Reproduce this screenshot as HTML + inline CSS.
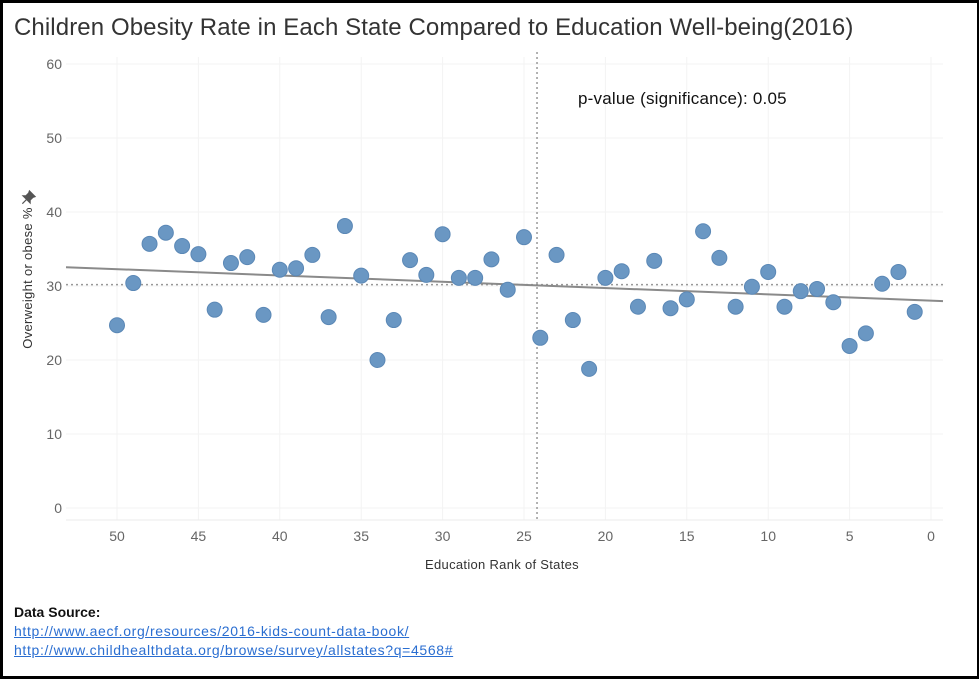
<!DOCTYPE html>
<html><head><meta charset="utf-8"><style>
body{margin:0;background:#fff;}
#wrap{position:relative;width:979px;height:679px;box-sizing:border-box;border:3px solid #000;border-right-width:2px;background:#fff;overflow:hidden;font-family:"Liberation Sans",sans-serif;}
#title{position:absolute;left:11px;top:11px;font-size:24px;letter-spacing:0.1px;color:#333;}
#src{position:absolute;left:11px;top:600px;font-size:14px;line-height:19px;letter-spacing:0.65px;}
#src b{color:#111;letter-spacing:0;}
#src span{color:#2a6ed1;text-decoration:underline;display:block;}
</style></head><body>
<div id="wrap">
<div id="title">Children Obesity Rate in Each State Compared to Education Well-being(2016)</div>
<svg id="chart" width="979" height="679" style="position:absolute;left:-3px;top:-3px"></svg>
<div id="src"><b>Data Source:</b>
<span>http://www.aecf.org/resources/2016-kids-count-data-book/</span>
<span>http://www.childhealthdata.org/browse/survey/allstates?q=4568#</span></div>
</div>
<script>
const ranks=[50,49,48,47,46,45,44,43,42,41,40,39,38,37,36,35,34,33,32,31,30,29,28,27,26,25,24,23,22,21,20,19,18,17,16,15,14,13,12,11,10,9,8,7,6,5,4,3,2,1];
const obesity=[24.7,30.4,35.7,37.2,35.4,34.3,26.8,33.1,33.9,26.1,32.2,32.4,34.2,25.8,38.1,31.4,20.0,25.4,33.5,31.5,37.0,31.1,31.1,33.6,29.5,36.6,23.0,34.2,25.4,18.8,31.1,32.0,27.2,33.4,27.0,28.2,37.4,33.8,27.2,29.9,31.9,27.2,29.3,29.6,27.8,21.9,23.6,30.3,31.9,26.5];
const xTicks=[50,45,40,35,30,25,20,15,10,5,0];
const yTicks=[0,10,20,30,40,50,60];
const refRank=24.2;
const svg=document.getElementById('chart');const NS='http://www.w3.org/2000/svg';
const X=v=>931-v*16.28, Y=v=>508-v*7.4;
const L=66,R=943,T=57,B=520;
function mk(t,a,p){const e=document.createElementNS(NS,t);for(const k in a)e.setAttribute(k,a[k]);(p||svg).appendChild(e);return e;}
yTicks.forEach(v=>{
const g=mk('line',{x1:L,x2:R,y1:Y(v),y2:Y(v),stroke:'#f3f3f3'});


const t=mk('text',{x:62,y:Y(v)+5,'text-anchor':'end','font-size':14,fill:'#666'});t.textContent=v;


});
xTicks.forEach(v=>{
const g=mk('line',{x1:X(v),x2:X(v),y1:T,y2:B,stroke:'#f3f3f3'});


const t=mk('text',{x:X(v),y:541,'text-anchor':'middle','font-size':14,fill:'#666'});t.textContent=v;


});
const ax=mk('line',{x1:L,x2:R,y1:B,y2:B,stroke:'#ebebeb'});


const xt=mk('text',{x:502,y:569,'text-anchor':'middle','font-size':13,fill:'#333','letter-spacing':0.3});xt.textContent='Education Rank of States';


const yt=mk('text',{x:0,y:0,'text-anchor':'middle','font-size':13,fill:'#333','letter-spacing':0.3,transform:'translate(32,278) rotate(-90)'});yt.textContent='Overweight or obese %';


const pin=mk('path',{d:'M-4,-6 L4,-6 L3,-4 L3,0 L5,2 L-5,2 L-3,0 L-3,-4 Z M0,2 L0,8',fill:'#555',stroke:'#555','stroke-width':1.2,transform:'translate(28,198) rotate(45)'});


const n=ranks.length;const mx=ranks.reduce((a,b)=>a+b)/n,my=obesity.reduce((a,b)=>a+b)/n;
let sxy=0,sxx=0;ranks.forEach((r,i)=>{sxy+=(r-mx)*(obesity[i]-my);sxx+=(r-mx)*(r-mx);});
const slope=sxy/sxx,ic=my-slope*mx;
const ml=mk('line',{x1:L,x2:R,y1:Y(my),y2:Y(my),stroke:'#999','stroke-dasharray':'2,3','stroke-width':1.5});


const vl=mk('line',{x1:X(refRank),x2:X(refRank),y1:T-5,y2:B,stroke:'#999','stroke-dasharray':'2,3','stroke-width':1.5});


const r0=(931-L)/16.28, r1=(931-R)/16.28;
const tl=mk('line',{x1:L,x2:R,y1:Y(ic+slope*r0),y2:Y(ic+slope*r1),stroke:'#8a8a8a','stroke-width':2});


ranks.forEach((r,i)=>{
const c=mk('circle',{cx:X(r),cy:Y(obesity[i]),r:7.5,fill:'#6a97c3',stroke:'#5b88b6','stroke-width':1});


});
const pv=mk('text',{x:578,y:104,'font-size':17,fill:'#111','letter-spacing':0.2});pv.textContent='p-value (significance): 0.05';


</script>
</body></html>
